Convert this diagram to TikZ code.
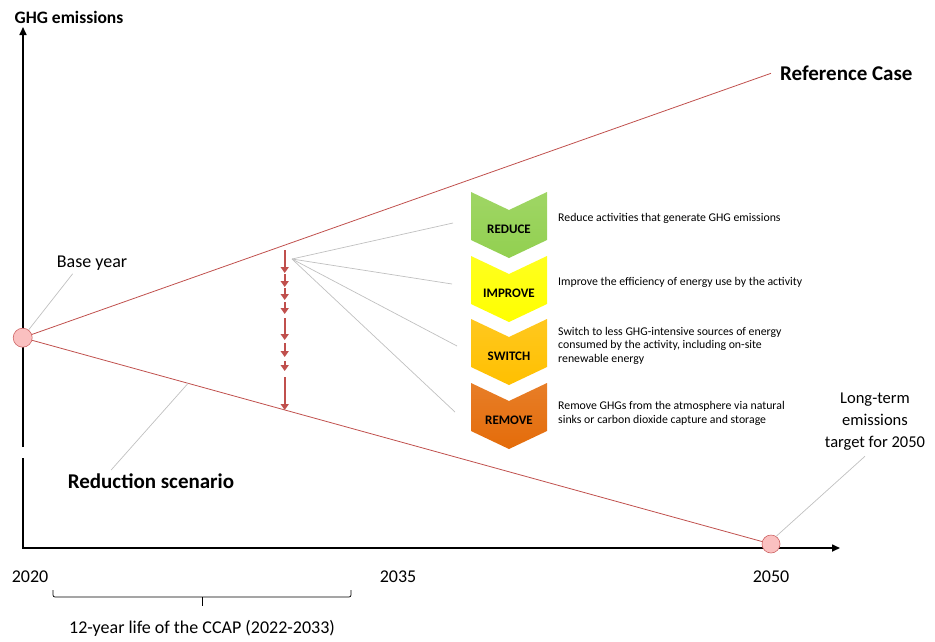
\documentclass[tikz,border=0pt]{standalone}
\usepackage{fontspec}
\setmainfont{Carlito}
\usetikzlibrary{arrows.meta,calc,positioning}
\definecolor{trendred}{RGB}{192,80,77}
\definecolor{dotpink}{RGB}{250,192,192}
\definecolor{dotedge}{RGB}{205,100,100}
\definecolor{leadergray}{RGB}{192,192,192}
\definecolor{reducegreen}{RGB}{146,208,80}
\definecolor{improveyellow}{RGB}{255,255,0}
\definecolor{switchamber}{RGB}{255,192,0}
\definecolor{removeorange}{RGB}{228,108,10}

\tikzset{
  axis/.style={line width=1.6pt, -{Triangle[length=8pt,width=7pt]}},
  trend/.style={trendred, line width=0.8pt},
  leader/.style={leadergray, line width=0.7pt},
  yeardot/.style={circle, minimum size=19pt, inner sep=0pt, fill=dotpink, draw=dotedge, line width=0.6pt},
  steparrow/.style={trendred, line width=2pt, -{Triangle[length=6pt,width=8pt]}},
  bigtitle/.style={font=\fontsize{21}{24}\selectfont\bfseries},
  plain/.style={font=\fontsize{18}{21}\selectfont},
  chevlabel/.style={font=\fontsize{13}{15}\selectfont\bfseries},
  desc/.style={anchor=west, align=left, inner sep=0pt, font=\fontsize{11.8}{13.7}\selectfont},
}

\begin{document}
\begin{tikzpicture}[x=1pt, y=-1pt]
\useasboundingbox (0,0) rectangle (935,641);

% axes (y axis broken just above the bottom)
\draw[axis] (23,447) -- (23,27);
\draw[axis] (23,458) -- (23,548) -- (840,548);
\node[font=\fontsize{17.5}{20}\selectfont\bfseries] (ylabel) at (69,17) {GHG emissions};

% years
\node[plain] (y2020) at (30,577) {2020};
\node[plain] (y2035) at (398,577) {2035};
\node[plain] (y2050) at (771,577) {2050};

% base year and 2050 target
\node[yeardot] (base) at (22.7,337.7) {};
\node[yeardot, minimum size=18pt] (target) at (771,544) {};
\node[bigtitle, anchor=west, inner xsep=9pt] (refcase) at (771,73.3) {Reference Case};
\draw[trend] (base) -- (refcase.west);
\draw[trend] (base) -- (target);

\node[plain] (baseyear) at (92,263) {Base year};
\draw[leader] (base.53) -- ($(baseyear.south west)!0.25!(baseyear.south east)$);

\node[bigtitle] (redscen) at (151,481) {Reduction scenario};
\coordinate (redpoint) at ($(base)!0.221!(target)$);
\draw[leader] ($(redscen.north west)!0.27!(redscen.north east)$) -- (redpoint);

\node[align=center, font=\fontsize{16.5}{22}\selectfont] (longterm) at (875,422) {Long-term\\emissions\\target for 2050};
\draw[leader] (target.56) -- ([xshift=-10pt, yshift=-2pt]longterm.south);

% stepwise cuts between the two lines
\foreach \a/\b in {250/273, 274/287, 288/300, 302/314, 318/340, 343/357, 361/371, 377/410}
  \draw[steparrow] (284.7,\a) -- (284.7,\b);

% chevrons
\foreach \t/\col/\id/\lbl in {192/reducegreen/reduce/REDUCE, 256/improveyellow/improve/IMPROVE, 319/switchamber/switch/SWITCH, 383/removeorange/remove/REMOVE}{
  \shade[top color=\col!88!white, bottom color=\col]
    (471,\t) -- (509,\t+18) -- (547,\t) -- (547,\t+48) -- (509,\t+66) -- (471,\t+48) -- cycle;
  \node[chevlabel] (\id) at (509,\t+37) {\lbl};
}

% descriptions
\node[desc] (reduce-txt) at (558,218) {Reduce activities that generate GHG emissions};
\node[desc] (improve-txt) at (558,282) {Improve the efficiency of energy use by the activity};
\node[desc] (switch-txt) at (558,345.7) {Switch to less GHG-intensive sources of energy\\consumed by the activity, including on-site\\renewable energy};
\node[desc] (remove-txt) at (558,413.5) {Remove GHGs from the atmosphere via natural\\sinks or carbon dioxide capture and storage};

% fan of leaders
\coordinate (fan) at (292,259);
\coordinate (fan-reduce) at (453,223);
\coordinate (fan-improve) at (452,284);
\coordinate (fan-switch) at (457,346);
\coordinate (fan-remove) at (455,412);
\foreach \e in {reduce,improve,switch,remove}
  \draw[leader] (fan) -- (fan-\e);

% life of the plan
\draw[line width=0.7pt, rounded corners=2pt] (53,590) -- (53,597) -- (351,597) -- (351,590);
\draw[line width=0.7pt] (202,597) -- (202,606);
\node[plain] (ccap) at (202,628) {12-year life of the CCAP (2022-2033)};
\end{tikzpicture}
\end{document}
